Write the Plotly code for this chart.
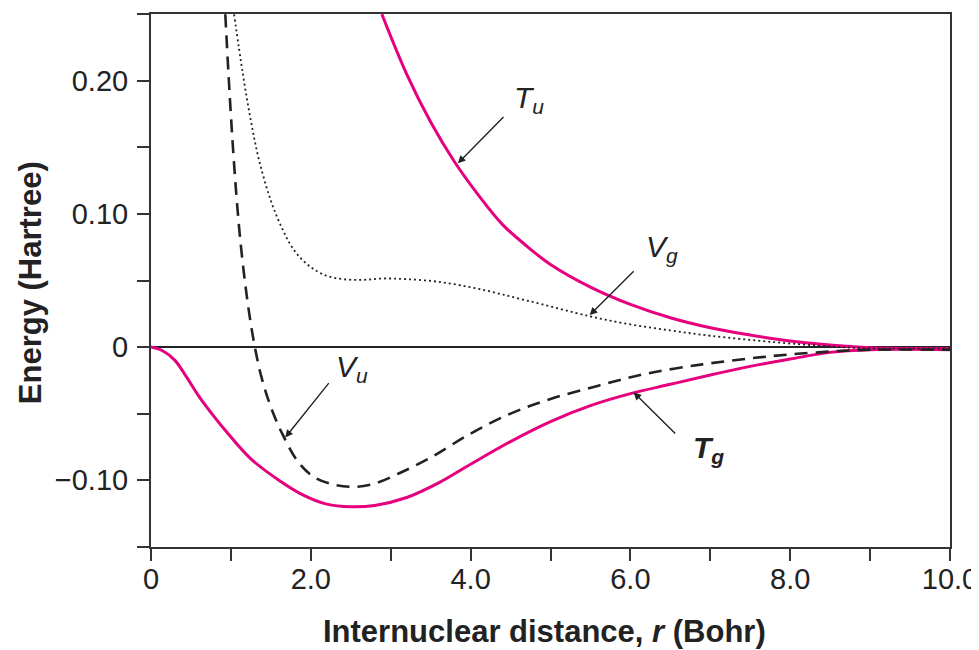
import plotly.graph_objects as go

# ---------------- data ----------------
tg_r = [0, 0.15, 0.3, 0.45, 0.6, 0.8, 0.95, 1.25, 1.6, 1.9, 2.2, 2.5, 2.8, 3.2, 3.6,
        4.0, 4.5, 5.0, 5.5, 6.0, 6.5, 7.0, 7.5, 8.0, 8.5, 9.0, 10.0]
tg_e = [0, -0.003, -0.010, -0.023, -0.037, -0.053, -0.064, -0.084, -0.100, -0.111,
        -0.118, -0.120, -0.119, -0.113, -0.102, -0.088, -0.071, -0.056, -0.044,
        -0.035, -0.028, -0.021, -0.0145, -0.009, -0.004, -0.002, -0.002]

vu_r = [0.93, 0.97, 1.02, 1.07, 1.12, 1.18, 1.24, 1.30, 1.38, 1.5, 1.65, 1.85, 2.05,
        2.3, 2.55, 2.8, 3.1, 3.5, 4.0, 4.5, 5.0, 5.6, 6.2, 6.9, 7.5, 8.0, 8.6, 9.0,
        10.0]
vu_e = [0.25, 0.205, 0.155, 0.113, 0.079, 0.047, 0.021, 0.0, -0.022, -0.045, -0.066,
        -0.087, -0.098, -0.1035, -0.105, -0.1025, -0.095, -0.083, -0.065, -0.050,
        -0.039, -0.029, -0.020, -0.013, -0.0085, -0.0055, -0.003, -0.002, -0.002]

vg_r = [1.04, 1.15, 1.25, 1.35, 1.5, 1.65, 1.8, 2.0, 2.2, 2.4, 2.65, 2.9, 3.2, 3.6,
        4.1, 4.7, 5.5, 6.0, 6.5, 7.0, 7.8, 8.5, 9.0, 10.0]
vg_e = [0.25, 0.205, 0.170, 0.141, 0.110, 0.088, 0.072, 0.060, 0.0535, 0.051,
        0.0505, 0.0515, 0.051, 0.049, 0.0437, 0.035, 0.023, 0.017, 0.0125, 0.0085,
        0.0037, 0.0005, -0.001, -0.001]

tu_r = [2.89, 3.2, 3.5, 3.8, 4.1, 4.4, 4.7, 5.0, 5.5, 6.0, 6.5, 7.0, 7.5, 8.0, 8.5,
        9.0, 10.0]
tu_e = [0.25, 0.205, 0.169, 0.139, 0.114, 0.092, 0.076, 0.062, 0.045, 0.032, 0.022,
        0.0145, 0.009, 0.0045, 0.0015, -0.0005, -0.001]

x_major = [0, 2, 4, 6, 8, 10]
x_major_text = ["0", "2.0", "4.0", "6.0", "8.0", "10.0"]
x_minor = [1, 3, 5, 7, 9]
y_major = [-0.10, 0, 0.10, 0.20]
y_major_text = ["\u22120.10", "0", "0.10", "0.20"]
y_minor = [-0.15, -0.05, 0.05, 0.15, 0.25]

MAGENTA = "#E6007E"
INK = "#222222"
FONT = "Liberation Sans, Arial, Helvetica, sans-serif"

fig = go.Figure()
fig.add_trace(go.Scatter(x=tg_r, y=tg_e, mode="lines", line_shape="spline",
                         line=dict(color=MAGENTA, width=3, smoothing=1.0), name="Tg"))
fig.add_trace(go.Scatter(x=tu_r, y=tu_e, mode="lines", line_shape="spline",
                         line=dict(color=MAGENTA, width=3, smoothing=1.0), name="Tu"))
fig.add_trace(go.Scatter(x=vg_r, y=vg_e, mode="lines", line_shape="spline",
                         line=dict(color=INK, width=1.8, dash="2px,3px", smoothing=1.0),
                         name="Vg"))
fig.add_trace(go.Scatter(x=vu_r, y=vu_e, mode="lines", line_shape="spline",
                         line=dict(color=INK, width=2.6, dash="13px,8px", smoothing=1.0),
                         name="Vu"))

label_font = dict(family=FONT, size=30, color=INK)
labels = [
    # text, label x, label y, arrow tail x, tail y, head x, head y
    ("<i>T<sub>u</sub></i>", 4.73, 0.186, 4.43, 0.174, 3.84, 0.138),
    ("<i>V<sub>g</sub></i>", 6.40, 0.074, 6.06, 0.058, 5.49, 0.024),
    ("<i>V<sub>u</sub></i>", 2.52, -0.016, 2.24, -0.026, 1.68, -0.068),
    ("<b><i>T<sub>g</sub></i></b>", 6.98, -0.077, 6.58, -0.066, 6.04, -0.034),
]
for txt, lx, ly, tx, ty, hx, hy in labels:
    fig.add_annotation(x=lx, y=ly, xref="x", yref="y", text=txt, showarrow=False,
                       xanchor="center", yanchor="middle", font=label_font)
    fig.add_annotation(x=hx, y=hy, ax=tx, ay=ty, xref="x", yref="y",
                       axref="x", ayref="y", text="", showarrow=True,
                       arrowhead=2, arrowsize=1.1, arrowwidth=1.4,
                       arrowcolor=INK)

# axis titles
fig.add_annotation(x=0.493, y=-0.159, xref="paper", yref="paper",
                   xanchor="center", yanchor="middle",
                   text="<b>Internuclear distance, <i>r</i> (Bohr)</b>",
                   showarrow=False, font=dict(family=FONT, size=31, color=INK))
fig.add_annotation(x=-0.1514, y=0.495, xref="paper", yref="paper",
                   xanchor="center", yanchor="middle",
                   text="<b>Energy (Hartree)</b>", textangle=-90,
                   showarrow=False, font=dict(family=FONT, size=31, color=INK))

axis_common = dict(showgrid=False, showline=True, linecolor="#333333", linewidth=2,
                   mirror=True, ticks="outside", ticklen=12, tickwidth=2,
                   tickcolor="#333333", automargin=False,
                   tickfont=dict(family=FONT, size=29, color=INK))

fig.update_xaxes(range=[0, 10], tickmode="array", tickvals=x_major,
                 ticktext=x_major_text, zeroline=False,
                 minor=dict(tickmode="array", tickvals=x_minor, ticks="outside",
                            ticklen=12, tickwidth=2, tickcolor="#333333"),
                 ticklabelstandoff=-7, **axis_common)
fig.update_yaxes(range=[-0.1502, 0.2502], tickmode="array", tickvals=y_major,
                 ticktext=y_major_text, zeroline=True, zerolinecolor=INK,
                 zerolinewidth=1.6,
                 minor=dict(tickmode="array", tickvals=y_minor, ticks="outside",
                            ticklen=12, tickwidth=2, tickcolor="#333333"),
                 ticklabelstandoff=3, **axis_common)

fig.update_layout(width=979, height=650, showlegend=False,
                  margin=dict(l=143, r=37, t=6, b=111),
                  paper_bgcolor="white", plot_bgcolor="white",
                  font=dict(family=FONT, color=INK))

fig.write_html("out.html")
